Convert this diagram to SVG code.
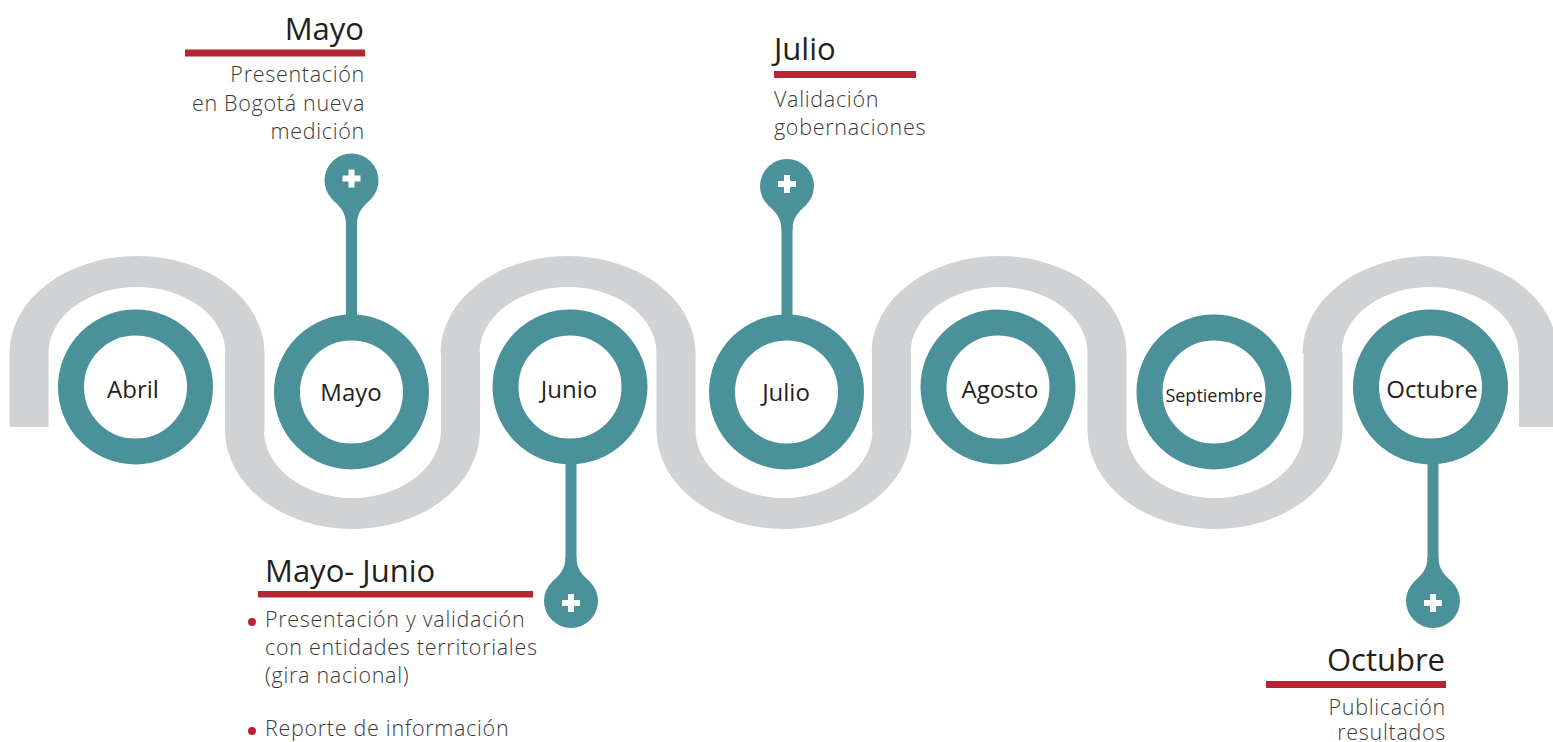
<svg xmlns="http://www.w3.org/2000/svg" width="1553" height="742" viewBox="0 0 1553 742">
  <style>
    .wave { fill: #D1D2D4; }
    .ring { fill: #FFFFFF; stroke: #4A919A; stroke-width: 26; }
    .teal { fill: #4A919A; }
    .plus { fill: #FFFFFF; }
    .red { fill: #B72433; }
    .node-label { font-family: "Open Sans", "Liberation Sans", sans-serif; font-size: 24px; fill: #231F20; text-anchor: middle; }
    .title { font-family: "Open Sans", "Liberation Sans", sans-serif; font-size: 31px; fill: #231F20; }
    .desc { font-family: "Open Sans", "Liberation Sans", sans-serif; font-size: 21.5px; font-weight: 300; letter-spacing: 0.7px; fill: #3A3A3A; }
  </style>
  <defs>
    <g id="pin-up">
      <circle cx="0" cy="0" r="27" class="teal"/>
      <path class="teal" d="M-19,19 C-12,26 -5.5,31 -5.5,44 L5.5,44 C5.5,31 12,26 19,19 Z"/>
      <rect class="plus" x="-9" y="-5" width="18" height="6"/>
      <rect class="plus" x="-3" y="-11" width="6" height="18"/>
    </g>
    <g id="pin-down">
      <circle cx="0" cy="0" r="27" class="teal"/>
      <path class="teal" d="M-19,-19 C-12,-26 -5.5,-31 -5.5,-44 L5.5,-44 C5.5,-31 12,-26 19,-19 Z"/>
      <rect class="plus" x="-9" y="-1" width="18" height="6"/>
      <rect class="plus" x="-3" y="-7" width="6" height="18"/>
    </g>
  </defs>

  <g id="wave">
    <rect class="wave" x="9.5" y="352" width="39" height="75"/>
    <path class="wave" d="M9.5,353 A127.5,97 0 0 1 264.5,353 L225.5,353 A88.5,66 0 0 0 48.5,353 Z"/>
    <rect class="wave" x="225" y="352" width="39.5" height="79"/>
    <path class="wave" d="M225,430 A127.5,99 0 0 0 480,430 L441,430 A88.5,68 0 0 1 264,430 Z"/>
    <rect class="wave" x="441" y="352" width="39" height="79"/>
    <path class="wave" d="M440.5,353 A127.5,97 0 0 1 695.5,353 L656.5,353 A88.5,66 0 0 0 479.5,353 Z"/>
    <rect class="wave" x="656.5" y="352" width="39" height="79"/>
    <path class="wave" d="M656.5,430 A127.5,99 0 0 0 911.5,430 L872.5,430 A88.5,68 0 0 1 695.5,430 Z"/>
    <rect class="wave" x="872" y="352" width="39" height="79"/>
    <path class="wave" d="M871.5,353 A127.5,97 0 0 1 1126.5,353 L1087.5,353 A88.5,66 0 0 0 910.5,353 Z"/>
    <rect class="wave" x="1087.5" y="352" width="39" height="79"/>
    <path class="wave" d="M1087.5,430 A127.5,99 0 0 0 1342.5,430 L1303.5,430 A88.5,68 0 0 1 1126.5,430 Z"/>
    <rect class="wave" x="1303.5" y="352" width="39" height="79"/>
    <path class="wave" d="M1302.5,353 A127.5,97 0 0 1 1557.5,353 L1518.5,353 A88.5,66 0 0 0 1341.5,353 Z"/>
    <rect class="wave" x="1519" y="352" width="39" height="75"/>
  </g>

  <g id="connectors">
    <rect class="teal" x="346" y="220" width="11" height="97"/>
    <rect class="teal" x="781.5" y="226" width="11" height="91"/>
    <rect class="teal" x="565.5" y="461" width="11" height="99"/>
    <rect class="teal" x="1427.5" y="461" width="11" height="99"/>
  </g>

  <g id="node-abril">
    <circle class="ring" cx="135.5" cy="387" r="64.5"/>
    <text class="node-label" x="133" y="398">Abril</text>
  </g>
  <g id="node-mayo">
    <circle class="ring" cx="351.5" cy="392" r="64.5"/>
    <text class="node-label" x="351" y="401">Mayo</text>
  </g>
  <g id="node-junio">
    <circle class="ring" cx="570" cy="387" r="64.5"/>
    <text class="node-label" x="569" y="398">Junio</text>
  </g>
  <g id="node-julio">
    <circle class="ring" cx="786.5" cy="392" r="64.5"/>
    <text class="node-label" x="786" y="401">Julio</text>
  </g>
  <g id="node-agosto">
    <circle class="ring" cx="998" cy="387" r="64.5"/>
    <text class="node-label" x="1000" y="398">Agosto</text>
  </g>
  <g id="node-septiembre">
    <circle class="ring" cx="1214" cy="392" r="64.5"/>
    <text class="node-label" x="1214" y="402" style="font-size:18px">Septiembre</text>
  </g>
  <g id="node-octubre">
    <circle class="ring" cx="1430.5" cy="387" r="64.5"/>
    <text class="node-label" x="1432" y="398">Octubre</text>
  </g>

  <g id="pin-mayo">
    <use href="#pin-up" x="351.5" y="180.5"/>
  </g>
  <g id="pin-julio">
    <use href="#pin-up" x="787" y="186"/>
  </g>
  <g id="pin-junio">
    <use href="#pin-down" x="571" y="601"/>
  </g>
  <g id="pin-octubre">
    <use href="#pin-down" x="1433" y="601"/>
  </g>

  <g id="label-mayo">
    <text class="title" x="364" y="40" text-anchor="end">Mayo</text>
    <rect class="red" x="185" y="49.5" width="180" height="7"/>
    <text class="desc" x="365" y="82" text-anchor="end">Presentación</text>
    <text class="desc" x="365" y="111" text-anchor="end">en Bogotá nueva</text>
    <text class="desc" x="365" y="139" text-anchor="end">medición</text>
  </g>

  <g id="label-julio">
    <text class="title" x="774" y="60">Julio</text>
    <rect class="red" x="774" y="71" width="142" height="7"/>
    <text class="desc" x="774" y="107">Validación</text>
    <text class="desc" x="774" y="135">gobernaciones</text>
  </g>

  <g id="label-mayo-junio">
    <text class="title" x="265" y="582">Mayo- Junio</text>
    <rect class="red" x="258" y="591" width="275" height="6.5"/>
    <circle class="red" cx="252" cy="622" r="4"/>
    <text class="desc" x="265" y="627">Presentación y validación</text>
    <text class="desc" x="265" y="655">con entidades territoriales</text>
    <text class="desc" x="265" y="683">(gira nacional)</text>
    <circle class="red" cx="252" cy="731" r="4"/>
    <text class="desc" x="265" y="736">Reporte de información</text>
  </g>

  <g id="label-octubre">
    <text class="title" x="1445" y="671" text-anchor="end">Octubre</text>
    <rect class="red" x="1266" y="681" width="180" height="7"/>
    <text class="desc" x="1446" y="715" text-anchor="end">Publicación</text>
    <text class="desc" x="1446" y="740" text-anchor="end">resultados</text>
  </g>
</svg>
